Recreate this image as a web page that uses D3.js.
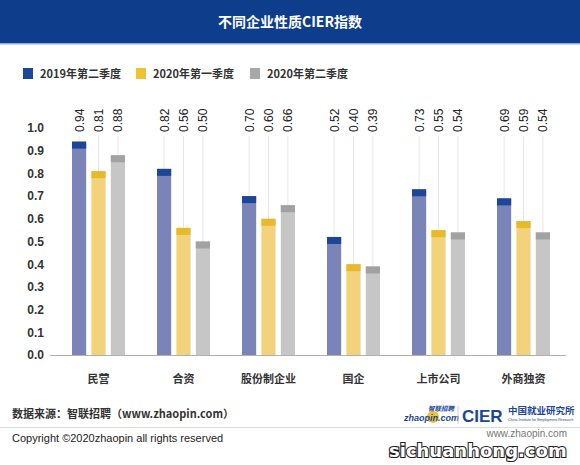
<!DOCTYPE html>
<html><head><meta charset="utf-8">
<script src="https://cdn.jsdelivr.net/npm/d3@7"></script>
<style>
body{margin:0;background:#fff;}
svg{display:block;font-family:"Liberation Sans","Noto Sans CJK SC",sans-serif;}
</style></head>
<body><svg id="c" width="580" height="465"></svg>
<script>
const title = "不同企业性质CIER指数";
const categories = ["民营","合资","股份制企业","国企","上市公司","外商独资"];
const seriesNames = ["2019年第二季度","2020年第一季度","2020年第二季度"];
const s2019Q2 = [0.94,0.82,0.70,0.52,0.73,0.69];
const s2020Q1 = [0.81,0.56,0.60,0.40,0.55,0.59];
const s2020Q2 = [0.88,0.50,0.66,0.39,0.54,0.54];
const yTicks = [0,0.1,0.2,0.3,0.4,0.5,0.6,0.7,0.8,0.9,1.0];
const bodyColors = ["#7b84b8","#f2d27a","#c6c6c6"];
const capColors = ["#1c4697","#e9b92c","#a2a2a2"];
const legendColors = ["#1c4697","#f0c231","#a8a8a8"];

const svg = d3.select("#c");
// header
svg.append("rect").attr("x",0).attr("y",0).attr("width",580).attr("height",43).attr("fill","#0e3e8b");
svg.append("rect").attr("x",0).attr("y",43).attr("width",580).attr("height",1.5).attr("fill","#8fb0dc");
svg.append("text").attr("x",290).attr("y",27).attr("text-anchor","middle").attr("fill","#fff")
  .attr("font-size",14).attr("font-weight","bold").attr("font-family","'Noto Sans CJK SC',sans-serif").text(title);

// legend
const legX = [23,136,250];
seriesNames.forEach((n,i)=>{
  svg.append("rect").attr("x",legX[i]).attr("y",68).attr("width",10).attr("height",11).attr("fill",legendColors[i]);
  svg.append("text").attr("x",legX[i]+17).attr("y",78).attr("font-size",11).attr("font-weight","bold")
    .attr("fill","#333").attr("font-family","'Noto Sans CJK SC',sans-serif").text(n);
});

const x0 = d3.scaleBand().domain(categories).range([56,566]).paddingInner(0).paddingOuter(0);
const x1 = d3.scaleBand().domain([0,1,2]).range([0,53]).paddingInner(0.27);
const y = d3.scaleLinear().domain([0,1]).range([355,128]);

// y axis labels
const yAxis = d3.axisLeft(y).tickValues(yTicks).tickFormat(d3.format(".1f")).tickSize(0).tickPadding(0);
const ya = svg.append("g").attr("transform","translate(44,0)").call(yAxis);
ya.select(".domain").remove();
ya.selectAll("text").attr("font-size",12).attr("font-weight","bold").attr("fill","#333")
  .attr("font-family","'Liberation Sans',sans-serif");

const data = categories.map((c,i)=>({c, v:[s2019Q2[i],s2020Q1[i],s2020Q2[i]]}));
const groupOffset = (x0.bandwidth()-53)/2;
const g = svg.append("g");
data.forEach(d=>{
  d.v.forEach((v,k)=>{
    const bx = x0(d.c)+groupOffset+x1(k);
    const bw = x1.bandwidth();
    const cx = bx+bw/2;
    g.append("line").attr("x1",cx).attr("x2",cx).attr("y1",136).attr("y2",y(v))
      .attr("stroke","#e6e6e6").attr("stroke-width",1);
    g.append("rect").attr("x",bx).attr("y",y(v)).attr("width",bw).attr("height",y(0)-y(v)).attr("fill",bodyColors[k]);
    g.append("rect").attr("x",bx).attr("y",y(v)).attr("width",bw).attr("height",7).attr("fill",capColors[k]);
    g.append("text").attr("transform",`translate(${cx+4.5},132) rotate(-90)`)
      .attr("font-size",12).attr("fill","#222").attr("font-family","'Liberation Sans',sans-serif")
      .text(d3.format(".2f")(v));
  });
});

// baseline
svg.append("line").attr("x1",50).attr("x2",566).attr("y1",y(0)+0.5).attr("y2",y(0)+0.5).attr("stroke","#b0b0b0");

// category labels
const xAxis = d3.axisBottom(x0).tickSize(0).tickPadding(0);
const xa = svg.append("g").attr("transform",`translate(0,${y(0)+20})`).call(xAxis);
xa.select(".domain").remove();
xa.selectAll("text").attr("font-size",11).attr("fill","#333").attr("font-family","'Noto Sans CJK SC',sans-serif")
  .attr("font-weight","bold");

// footer
svg.append("text").attr("x",12).attr("y",418).attr("font-size",11).attr("fill","#333").attr("font-weight","bold")
  .attr("font-family","'Noto Sans CJK SC',sans-serif").text("数据来源：智联招聘（www.zhaopin.com）");
svg.append("line").attr("x1",0).attr("x2",580).attr("y1",427.5).attr("y2",427.5).attr("stroke","#dcdcdc");
svg.append("text").attr("x",12).attr("y",442).attr("font-size",11).attr("fill","#222")
  .attr("font-family","'Liberation Sans',sans-serif").text("Copyright ©2020zhaopin all rights reserved");

// logos
svg.append("circle").attr("cx",433).attr("cy",417).attr("r",6).attr("fill","#f2c230");
svg.append("text").attr("x",404).attr("y",421).attr("font-size",9).attr("font-weight","bold").attr("font-style","italic")
  .attr("fill","#1c4697").text("zhaopin.com");
svg.append("text").attr("x",428).attr("y",411).attr("font-size",6.5).attr("font-weight","bold").attr("font-style","italic")
  .attr("fill","#1c4697").attr("font-family","'Noto Sans CJK SC',sans-serif").text("智联招聘");
svg.append("line").attr("x1",458).attr("x2",458).attr("y1",406).attr("y2",424).attr("stroke","#ccc");
svg.append("text").attr("x",462).attr("y",422).attr("font-size",17).attr("font-weight","bold")
  .attr("fill","#1c4697").text("CIER");
svg.append("text").attr("x",508).attr("y",414).attr("font-size",9.5).attr("font-weight","bold")
  .attr("fill","#1c4697").attr("font-family","'Noto Sans CJK SC',sans-serif").text("中国就业研究所");
svg.append("text").attr("x",508).attr("y",421).attr("font-size",3.6)
  .attr("fill","#1c4697").text("China Institute for Employment Research");
svg.append("text").attr("x",567).attr("y",437).attr("text-anchor","end").attr("font-size",10).attr("fill","#777")
  .text("www.zhaopin.com");
// watermark
svg.append("text").attr("x",389).attr("y",457).attr("font-size",18).attr("font-weight","bold")
  .attr("font-family","'DejaVu Sans',sans-serif").attr("fill","#fff").attr("stroke","#222").attr("stroke-width",2.2)
  .attr("paint-order","stroke").text("sichuanhong.com");
</script></body></html>
